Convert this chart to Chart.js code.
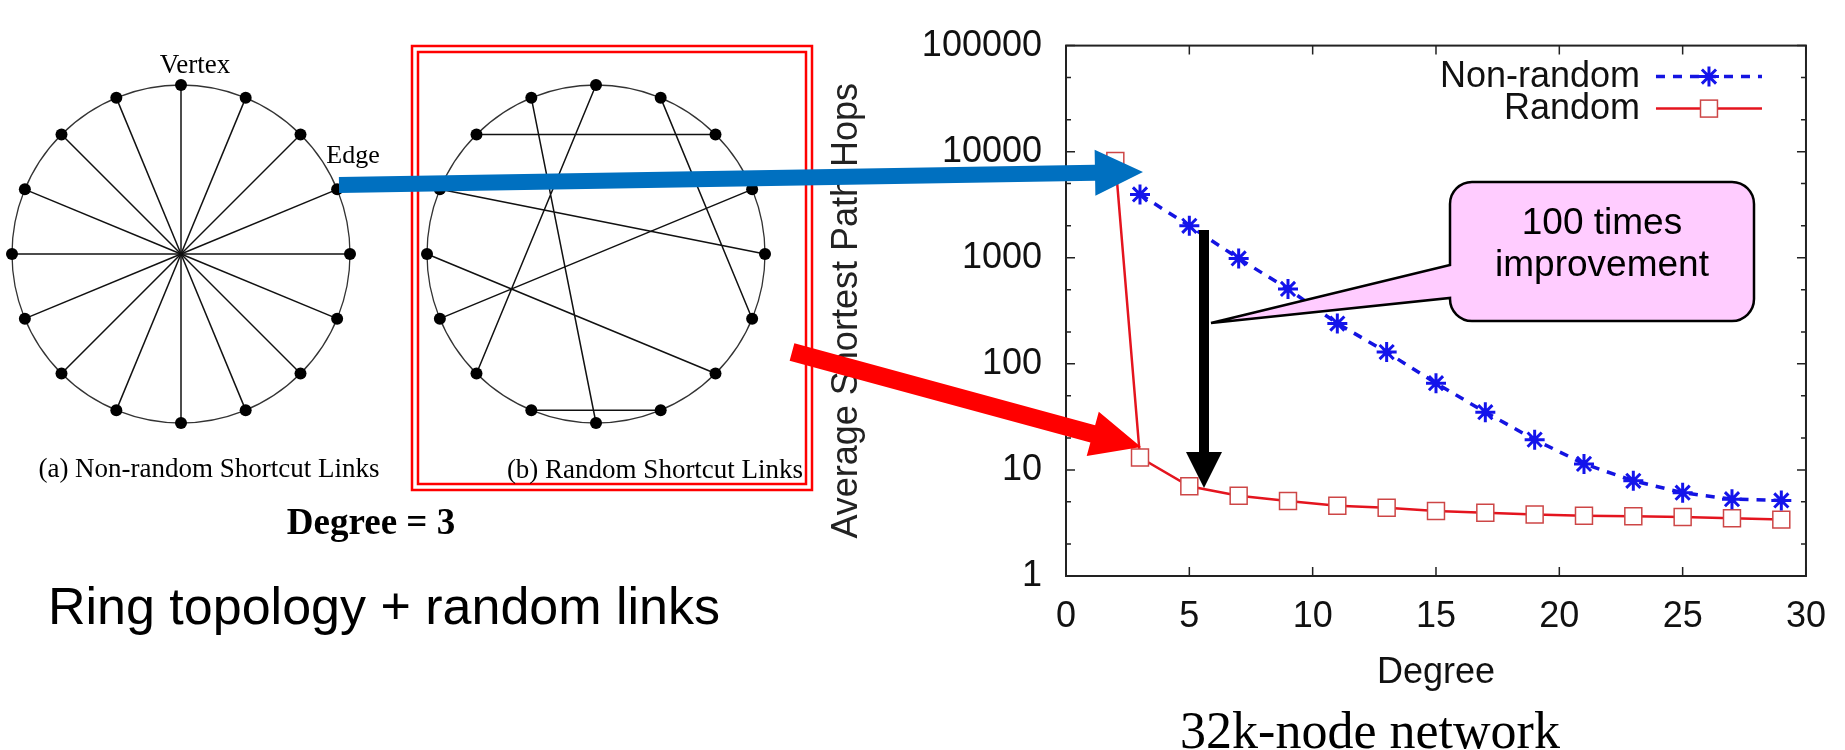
<!DOCTYPE html>
<html>
<head>
<meta charset="utf-8">
<script src="https://cdn.jsdelivr.net/npm/chart.js@4.4.0/dist/chart.umd.min.js"></script>
<style>
  body { margin: 0; background: #fff; width: 1845px; height: 750px; overflow: hidden; position: relative; }
  canvas { position: absolute; }
  .t { position: absolute; white-space: nowrap; line-height: 1; transform: translate(-50%, -50%); color: #000;
       font-family: "Liberation Serif", "Times New Roman", serif; }
  .sans { font-family: "Liberation Sans", Arial, sans-serif; }
  #note { position: absolute; left: 1450px; top: 201px; width: 304px; text-align: center; line-height: 43px;
          font: 37px "Liberation Sans", Arial, sans-serif; color: #000; }
</style>
</head>
<body>
<canvas id="ringA" width="360" height="360" style="left:1px;top:74px"></canvas>
<canvas id="ringB" width="360" height="360" style="left:416px;top:74px"></canvas>
<canvas id="hops" width="1025" height="750" style="left:820px;top:0"></canvas>
<canvas id="overlay" width="1845" height="750" style="left:0;top:0"></canvas>

<div class="t" style="left:195px;top:64px;font-size:27px">Vertex</div>
<div class="t" style="left:353px;top:155px;font-size:26px">Edge</div>
<div class="t" style="left:209px;top:468px;font-size:27px">(a) Non-random Shortcut Links</div>
<div class="t" style="left:655px;top:469px;font-size:27px">(b) Random Shortcut Links</div>
<div class="t" style="left:371px;top:521px;font-size:37px;font-weight:bold">Degree = 3</div>
<div class="t sans" style="left:384px;top:606px;font-size:52px">Ring topology + random links</div>
<div class="t" style="left:1370px;top:731px;font-size:52px">32k-node network</div>
<div id="note">100 times<br>improvement</div>

<script>
// ring diagrams: 16 vertices, each at full radius
const ringNodes = ['v0','v1','v2','v3','v4','v5','v6','v7','v8','v9','v10','v11','v12','v13','v14','v15'];
const nodeLevel = [1,1,1,1,1,1,1,1,1,1,1,1,1,1,1,1];
// shortcut pairs in the random ring (vertex index, clockwise from top)
const randomLinks = [[0,10],[15,8],[14,2],[1,5],[13,4],[3,11],[12,6],[9,7]];

// 32k-node network, average shortest path hops vs degree
const seriesNames = ['Non-random', 'Random'];
const degreeNonRandom = [3,5,7,9,11,13,15,17,19,21,23,25,27,29];
const hopsNonRandom = [3950,2000,985,508,240,129,65.7,35,19.3,11.4,7.9,6.1,5.3,5.15];
const degreeRandom = [2,3,5,7,9,11,13,15,17,19,21,23,25,27,29];
const hopsRandom = [8150,13.1,7.0,5.7,5.1,4.6,4.4,4.1,3.95,3.8,3.7,3.65,3.6,3.5,3.4];
const xTicks = [0,5,10,15,20,25,30];
const yTicks = [1,10,100,1000,10000,100000];
const yMinor = [2,5];

Chart.defaults.font.family = '"Liberation Sans", Arial, sans-serif';
Chart.defaults.color = '#111';

// draws shortcut chords between vertices of the ring
const chordPlugin = {
  id: 'chords',
  beforeDatasetsDraw(chart, args, opts) {
    if (!opts.links) return;
    const pts = chart.getDatasetMeta(0).data;
    const ctx = chart.ctx;
    ctx.save();
    ctx.strokeStyle = '#111';
    ctx.lineWidth = 1.5;
    ctx.beginPath();
    opts.links.forEach(([a, b]) => {
      ctx.moveTo(pts[a].x, pts[a].y);
      ctx.lineTo(pts[b].x, pts[b].y);
    });
    ctx.stroke();
    ctx.restore();
  }
};

function ringChart(id, spokes, links) {
  return new Chart(document.getElementById(id), {
    type: 'radar',
    data: {
      labels: ringNodes,
      datasets: [{
        data: nodeLevel,
        showLine: false,
        borderWidth: 0,
        fill: false,
        pointRadius: 6,
        pointBorderWidth: 0,
        pointBackgroundColor: '#000'
      }]
    },
    options: {
      responsive: false,
      animation: false,
      layout: { padding: 11 },
      plugins: { legend: { display: false }, tooltip: { enabled: false }, chords: { links: links } },
      scales: {
        r: {
          min: 0, max: 1,
          ticks: { display: false, stepSize: 1 },
          pointLabels: { display: false },
          grid: { circular: true, color: '#333', lineWidth: 1.3 },
          angleLines: { display: spokes, color: '#111', lineWidth: 1.5 }
        }
      }
    },
    plugins: [chordPlugin]
  });
}

ringChart('ringA', true, null);
ringChart('ringB', false, randomLinks);

// gnuplot-style frame with inward ticks
const framePlugin = {
  id: 'frame',
  beforeDatasetsDraw(chart) {
    const { ctx, chartArea: a, scales: { x, y } } = chart;
    ctx.save();
    ctx.strokeStyle = '#222';
    ctx.lineWidth = 2;
    ctx.strokeRect(a.left, a.top, a.right - a.left, a.bottom - a.top);
    ctx.lineWidth = 1.5;
    ctx.beginPath();
    xTicks.forEach(v => {
      const px = x.getPixelForValue(v);
      ctx.moveTo(px, a.bottom); ctx.lineTo(px, a.bottom - 9);
      ctx.moveTo(px, a.top); ctx.lineTo(px, a.top + 9);
    });
    yTicks.forEach((v, i) => {
      const py = y.getPixelForValue(v);
      ctx.moveTo(a.left, py); ctx.lineTo(a.left + 9, py);
      ctx.moveTo(a.right, py); ctx.lineTo(a.right - 9, py);
      if (i < yTicks.length - 1) {
        yMinor.forEach(m => {
          const pm = y.getPixelForValue(v * m);
          ctx.moveTo(a.left, pm); ctx.lineTo(a.left + 5, pm);
          ctx.moveTo(a.right, pm); ctx.lineTo(a.right - 5, pm);
        });
      }
    });
    ctx.stroke();
    ctx.restore();
  }
};

// key in the top right corner: label on the left, sample on the right
const keyPlugin = {
  id: 'key',
  afterDatasetsDraw(chart) {
    const { ctx, chartArea: a } = chart;
    ctx.save();
    ctx.font = '36px "Liberation Sans", Arial, sans-serif';
    ctx.textAlign = 'right';
    ctx.textBaseline = 'middle';
    chart.data.datasets.forEach((ds, i) => {
      const y = a.top + 31 + i * 32;
      const tx = a.right - 166;
      ctx.fillStyle = '#111';
      ctx.fillText(ds.label, tx, y);
      const x0 = tx + 16, x1 = tx + 122, xm = (x0 + x1) / 2;
      ctx.strokeStyle = ds.borderColor;
      ctx.lineWidth = ds.borderWidth;
      ctx.setLineDash(ds.borderDash || []);
      ctx.beginPath(); ctx.moveTo(x0, y); ctx.lineTo(x1, y); ctx.stroke();
      ctx.setLineDash([]);
      ctx.strokeStyle = ds.pointBorderColor;
      ctx.lineWidth = ds.pointBorderWidth;
      const r = ds.pointRadius;
      if (ds.pointStyle === 'star') {
        ctx.beginPath();
        ctx.moveTo(xm - r, y); ctx.lineTo(xm + r, y);
        ctx.moveTo(xm, y - r); ctx.lineTo(xm, y + r);
        const d = r * Math.SQRT1_2;
        ctx.moveTo(xm - d, y - d); ctx.lineTo(xm + d, y + d);
        ctx.moveTo(xm - d, y + d); ctx.lineTo(xm + d, y - d);
        ctx.stroke();
      } else {
        const s = r * Math.SQRT1_2;
        ctx.fillStyle = ds.pointBackgroundColor;
        ctx.fillRect(xm - s, y - s, 2 * s, 2 * s);
        ctx.strokeRect(xm - s, y - s, 2 * s, 2 * s);
      }
    });
    ctx.restore();
  }
};

new Chart(document.getElementById('hops'), {
  type: 'line',
  data: {
    datasets: [{
      label: seriesNames[0],
      data: degreeNonRandom.map((d, i) => ({ x: d, y: hopsNonRandom[i] })),
      borderColor: 'rgb(20,20,225)',
      borderWidth: 3.5,
      borderDash: [9, 8],
      pointStyle: 'star',
      pointRadius: 10,
      pointBorderWidth: 3,
      pointBorderColor: 'rgb(20,20,235)',
      pointBackgroundColor: 'rgb(20,20,235)',
      tension: 0
    }, {
      label: seriesNames[1],
      data: degreeRandom.map((d, i) => ({ x: d, y: hopsRandom[i] })),
      borderColor: 'rgb(228,20,30)',
      borderWidth: 2.5,
      pointStyle: 'rect',
      pointRadius: 12,
      pointBorderWidth: 1.5,
      pointBorderColor: 'rgb(205,70,70)',
      pointBackgroundColor: '#fff',
      tension: 0
    }]
  },
  options: {
    responsive: false,
    animation: false,
    layout: { padding: { left: 5, right: 37, top: 22, bottom: 0 } },
    plugins: { legend: { display: false }, tooltip: { enabled: false } },
    scales: {
      x: {
        type: 'linear', min: 0, max: 30,
        afterBuildTicks: s => { s.ticks = xTicks.map(v => ({ value: v })); },
        afterFit: s => { s.height = 174; },
        grid: { display: false, drawTicks: false },
        border: { display: false },
        ticks: { padding: 19, font: { size: 36 }, color: '#111', maxRotation: 0 },
        title: { display: true, text: 'Degree', font: { size: 36 }, color: '#111', padding: { top: 0, bottom: 55 } }
      },
      y: {
        type: 'logarithmic', min: 1, max: 100000,
        afterBuildTicks: s => { s.ticks = yTicks.map(v => ({ value: v })); },
        afterFit: s => { s.width = 241; },
        grid: { display: false, drawTicks: false },
        border: { display: false },
        ticks: { padding: 24, font: { size: 36 }, color: '#111', callback: v => String(v) },
        title: { display: true, text: 'Average Shortest Path Hops', font: { size: 36 }, color: '#222', padding: { top: 0, bottom: 0 } }
      }
    }
  },
  plugins: [framePlugin, keyPlugin]
});

// slide annotations: highlight box, arrows and the callout
const ov = document.getElementById('overlay').getContext('2d');

function arrow(ctx, x1, y1, x2, y2, shaft, headW, headL, color) {
  const ang = Math.atan2(y2 - y1, x2 - x1);
  const len = Math.hypot(x2 - x1, y2 - y1);
  ctx.save();
  ctx.translate(x1, y1);
  ctx.rotate(ang);
  ctx.fillStyle = color;
  ctx.beginPath();
  ctx.moveTo(0, -shaft / 2);
  ctx.lineTo(len - headL, -shaft / 2);
  ctx.lineTo(len - headL, -headW / 2);
  ctx.lineTo(len, 0);
  ctx.lineTo(len - headL, headW / 2);
  ctx.lineTo(len - headL, shaft / 2);
  ctx.lineTo(0, shaft / 2);
  ctx.closePath();
  ctx.fill();
  ctx.restore();
}

ov.strokeStyle = '#ff0000';
ov.lineWidth = 2.5;
ov.strokeRect(412, 46, 400, 444);
ov.strokeRect(418, 52, 388, 432);

arrow(ov, 339, 185, 1143, 172, 16, 46, 48, '#0070c0');
arrow(ov, 792, 352, 1141, 447, 18, 46, 50, '#ff0000');
arrow(ov, 1204, 230, 1204, 488, 10, 36, 36, '#000');

// callout bubble
(function () {
  const l = 1450, r = 1754, t = 182, b = 321, rad = 22;
  ov.beginPath();
  ov.moveTo(l + rad, t);
  ov.lineTo(r - rad, t);
  ov.arcTo(r, t, r, t + rad, rad);
  ov.lineTo(r, b - rad);
  ov.arcTo(r, b, r - rad, b, rad);
  ov.lineTo(l + rad, b);
  ov.arcTo(l, b, l, b - rad, rad);
  ov.lineTo(l, 298);
  ov.lineTo(1211, 323);
  ov.lineTo(l, 265);
  ov.lineTo(l, t + rad);
  ov.arcTo(l, t, l + rad, t, rad);
  ov.closePath();
  ov.fillStyle = '#ffccff';
  ov.fill();
  ov.strokeStyle = '#000';
  ov.lineWidth = 2.5;
  ov.stroke();
})();
</script>
</body>
</html>
